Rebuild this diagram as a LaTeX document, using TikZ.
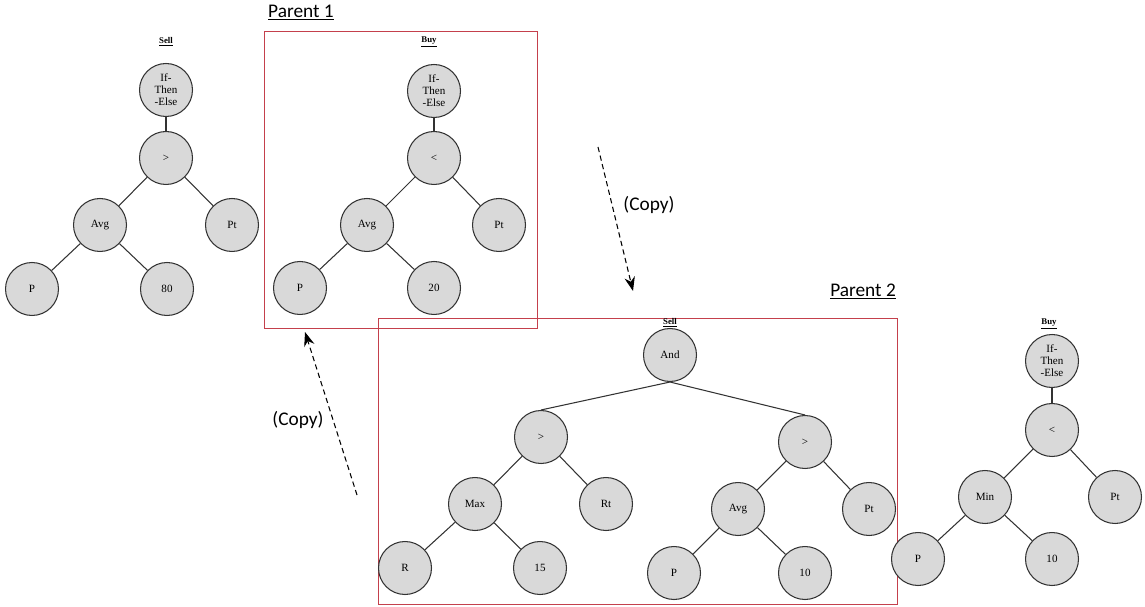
\documentclass[tikz,border=0pt]{standalone}
\usepackage{fontspec}
\setmainfont{Liberation Serif}
\newfontfamily\calfont{Carlito}
\usetikzlibrary{arrows.meta}
\definecolor{boxred}{RGB}{196,64,76}
\definecolor{nodegray}{RGB}{217,217,217}
\begin{document}
\begin{tikzpicture}[x=0.02cm,y=-0.02cm,
op/.style={%
draw=black!80,
fill=nodegray,
circle,
line width=0.6pt,
minimum size=1.06cm,
inner sep=0pt,
align=center,
font=\fontsize{6.3}{6.8}\selectfont
},
treetag/.style={%
font=\bfseries\fontsize{5}{6}\selectfont
},
link/.style={%
draw=black!80,
line width=0.6pt
},
parentbox/.style={%
draw=boxred,
line width=0.7pt
},
heading/.style={%
font=\calfont\fontsize{11}{12}\selectfont
},
copyarrow/.style={%
densely dashed,
line width=0.6pt,
-{Stealth[length=8pt,width=6pt]}
}
]
\useasboundingbox (0,0) rectangle (1145,607);
%% Left tree (Sell)
\node[treetag]at(166,42)(sTag){\underline{Sell}};
\node[op]at(166,90)(sIf){If-\\Then\\-Else};
\node[op]at(166,158)(sGt){>};
\node[op]at(100,225)(sAvg){Avg};
\node[op]at(232,225)(sPt){Pt};
\node[op]at(32,289)(sP){P};
\node[op]at(167,289)(s80){80};
\draw[link](sIf)--(sGt);
\draw[link](sGt)--(sAvg);
\draw[link](sGt)--(sPt);
\draw[link](sAvg)--(sP);
\draw[link](sAvg)--(s80);
%% Parent 1 (Buy)
\node[heading,anchor=south west]at(262,27)(p1){\underline{Parent 1}};
\node[parentbox,minimum width=273*0.02cm,minimum height=297*0.02cm,anchor=north west]at(264,31)(p1box){};
\node[treetag]at(429,42)(bTag){\underline{Buy}};
\node[op]at(434,91)(bIf){If-\\Then\\-Else};
\node[op]at(434,158)(bLt){<};
\node[op]at(367,225)(bAvg){Avg};
\node[op]at(499,225)(bPt){Pt};
\node[op]at(300,288)(bP){P};
\node[op]at(434,288)(b20){20};
\draw[link](bIf)--(bLt);
\draw[link](bLt)--(bAvg);
\draw[link](bLt)--(bPt);
\draw[link](bAvg)--(bP);
\draw[link](bAvg)--(b20);
%% Parent 2 (Sell)
\node[heading,anchor=south east]at(902,306)(p2){\underline{Parent 2}};
\node[parentbox,minimum width=519*0.02cm,minimum height=286*0.02cm,anchor=north west]at(378,318)(p2box){};
\node[treetag]at(670,323)(tTag){\underline{Sell}};
\node[op]at(670,355)(tAnd){And};
\node[op]at(541,437)(tGtL){>};
\node[op]at(805,442)(tGtR){>};
\node[op]at(475,504)(tMax){Max};
\node[op]at(606,504)(tRt){Rt};
\node[op]at(738,509)(tAvg){Avg};
\node[op]at(869,509)(tPt){Pt};
\node[op]at(405,568)(tR){R};
\node[op]at(540,568)(t15){15};
\node[op]at(674,573)(tP){P};
\node[op]at(805,573)(t10){10};
\draw[link](tAnd.south)--(tGtL.north);
\draw[link](tAnd.south)--(tGtR.north);
\draw[link](tGtL)--(tMax);
\draw[link](tGtL)--(tRt);
\draw[link](tGtR)--(tAvg);
\draw[link](tGtR)--(tPt);
\draw[link](tMax)--(tR);
\draw[link](tMax)--(t15);
\draw[link](tAvg)--(tP);
\draw[link](tAvg)--(t10);
%% Right tree (Buy)
\node[treetag]at(1049,324)(uTag){\underline{Buy}};
\node[op]at(1052,361)(uIf){If-\\Then\\-Else};
\node[op]at(1052,430)(uLt){<};
\node[op]at(985,497)(uMin){Min};
\node[op]at(1115,497)(uPt){Pt};
\node[op]at(918,559)(uP){P};
\node[op]at(1052,559)(u10){10};
\draw[link](uIf)--(uLt);
\draw[link](uLt)--(uMin);
\draw[link](uLt)--(uPt);
\draw[link](uMin)--(uP);
\draw[link](uMin)--(u10);
%% Copy arrows
\coordinate(c1s)at(598,147);
\coordinate(c1e)at(633,291);
\draw[copyarrow](c1s)--(c1e);
\node[heading]at(649,205)(c1lab){(Copy)};
\coordinate(c2s)at(357,495);
\coordinate(c2e)at(305,332);
\draw[copyarrow](c2s)--(c2e);
\node[heading]at(298,420)(c2lab){(Copy)};
\end{tikzpicture}
\end{document}
